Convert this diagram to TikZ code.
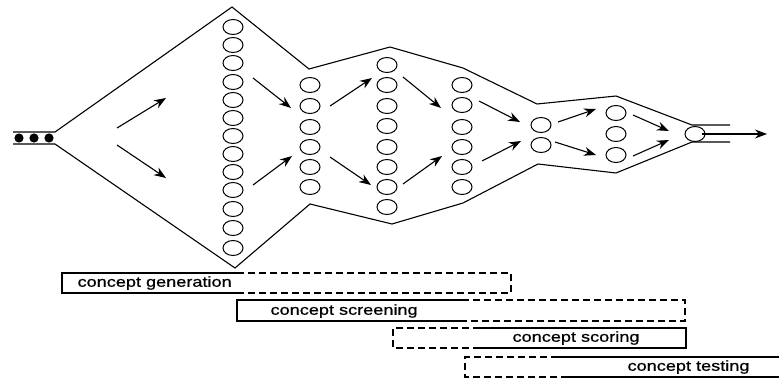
\documentclass[tikz,border=0pt]{standalone}
\usepackage{fontspec}
\newfontfamily\barfont[FakeStretch=1.25,FakeBold=0.8]{Liberation Sans}
\usetikzlibrary{arrows.meta}

\tikzset{
  arr/.style={-{Stealth[length=12pt,width=9pt]}},
  bub/.style={line width=1pt},
  lbl/.style={anchor=west, inner sep=0pt, font=\barfont\fontsize{14.5}{16}\selectfont},
  dsh/.style={dash pattern=on 7pt off 4pt}
}

\begin{document}
\begin{tikzpicture}[x=1pt,y=-1pt,line width=1.1pt]
\useasboundingbox (0,0) rectangle (779,378);

% funnel outline
\begin{scope}[line join=miter]
\draw (13,132) -- (55,132) -- (232,7) -- (309,69) -- (390,47) -- (463,68) -- (537,104) -- (616,96) -- (692,125) -- (730,125);
\draw (13,144) -- (55,144) -- (235,268) -- (310,204) -- (392,224) -- (463,203) -- (538,164) -- (616,173) -- (692,142) -- (730,142);
\end{scope}

% incoming ideas
\filldraw (19,138) circle (4pt) node (in1) {};
\filldraw (34,138) circle (4pt) node (in2) {};
\filldraw (49,138) circle (4pt) node (in3) {};

% concepts
\begin{scope}[bub]
\draw (233,27) ellipse (10pt and 7.5pt) node (g1) {};
\draw (233,45) ellipse (10pt and 7.5pt) node (g2) {};
\draw (233,63) ellipse (10pt and 7.5pt) node (g3) {};
\draw (233,82) ellipse (10pt and 7.5pt) node (g4) {};
\draw (233,100) ellipse (10pt and 7.5pt) node (g5) {};
\draw (233,118) ellipse (10pt and 7.5pt) node (g6) {};
\draw (233,136) ellipse (10pt and 7.5pt) node (g7) {};
\draw (233,154) ellipse (10pt and 7.5pt) node (g8) {};
\draw (233,172) ellipse (10pt and 7.5pt) node (g9) {};
\draw (233,190) ellipse (10pt and 7.5pt) node (g10) {};
\draw (233,209) ellipse (10pt and 7.5pt) node (g11) {};
\draw (233,228) ellipse (10pt and 7.5pt) node (g12) {};
\draw (233,248) ellipse (10pt and 7.5pt) node (g13) {};

\draw (310,85) ellipse (10pt and 7.5pt) node (s1) {};
\draw (310,106) ellipse (10pt and 7.5pt) node (s2) {};
\draw (310,127) ellipse (10pt and 7.5pt) node (s3) {};
\draw (310,147) ellipse (10pt and 7.5pt) node (s4) {};
\draw (310,167) ellipse (10pt and 7.5pt) node (s5) {};
\draw (310,187) ellipse (10pt and 7.5pt) node (s6) {};

\draw (387,65) ellipse (10pt and 7.5pt) node (r1) {};
\draw (387,85) ellipse (10pt and 7.5pt) node (r2) {};
\draw (387,106) ellipse (10pt and 7.5pt) node (r3) {};
\draw (387,126) ellipse (10pt and 7.5pt) node (r4) {};
\draw (387,147) ellipse (10pt and 7.5pt) node (r5) {};
\draw (387,167) ellipse (10pt and 7.5pt) node (r6) {};
\draw (387,187) ellipse (10pt and 7.5pt) node (r7) {};
\draw (387,207) ellipse (10pt and 7.5pt) node (r8) {};

\draw (462,85) ellipse (10pt and 7.5pt) node (c1) {};
\draw (462,105) ellipse (10pt and 7.5pt) node (c2) {};
\draw (462,127) ellipse (10pt and 7.5pt) node (c3) {};
\draw (462,147) ellipse (10pt and 7.5pt) node (c4) {};
\draw (462,167) ellipse (10pt and 7.5pt) node (c5) {};
\draw (462,187) ellipse (10pt and 7.5pt) node (c6) {};

\draw (541,125) ellipse (10pt and 7.5pt) node (t1) {};
\draw (541,145) ellipse (10pt and 7.5pt) node (t2) {};

\draw (616,113) ellipse (10pt and 7.5pt) node (u1) {};
\draw (616,134) ellipse (10pt and 7.5pt) node (u2) {};
\draw (616,155) ellipse (10pt and 7.5pt) node (u3) {};

\draw (695,134) ellipse (10pt and 7.5pt) node (win) {};
\end{scope}

% flow
\begin{scope}[arr]
\draw (117,128) -- (166,98);
\draw (117,145) -- (166,178);
\draw (253,78) -- (291,108);
\draw (253,185) -- (292,156);
\draw (330,106) -- (372,78);
\draw (330,157) -- (371,185);
\draw (403,77) -- (441,108);
\draw (403,184) -- (442,156);
\draw (479,101) -- (520,122);
\draw (482,161) -- (521,141);
\draw (558,122) -- (596,109);
\draw (555,142) -- (596,155);
\draw (633,115) -- (669,131);
\draw (633,156) -- (669,140);
\draw (win.east) ++(3,0) -- (767,134);
\end{scope}

% activities
\draw (237,273) -- (62,273) -- (62,293) -- (240,293);
\draw [dsh] (237,273) -- (511,273) -- (511,293) -- (240,293);
\node [lbl] (gen) at (77,283) {concept generation};

\draw (462,300) -- (237,300) -- (237,321) -- (462,321);
\draw [dsh] (462,300) -- (685,300) -- (685,321) -- (462,321);
\node [lbl] (scr) at (270,311) {concept screening};

\draw [dsh] (480,328) -- (393,328) -- (393,348) -- (478,348);
\draw (480,328) -- (686,328) -- (686,348) -- (478,348);
\node [lbl] (sco) at (512,338) {concept scoring};

\draw [dsh] (558,357) -- (465,357) -- (465,377) -- (562,377);
\draw (558,357) -- (779,357);
\draw (562,377) -- (779,377);
\node [lbl] (tes) at (627,367) {concept testing};
\end{tikzpicture}
\end{document}
